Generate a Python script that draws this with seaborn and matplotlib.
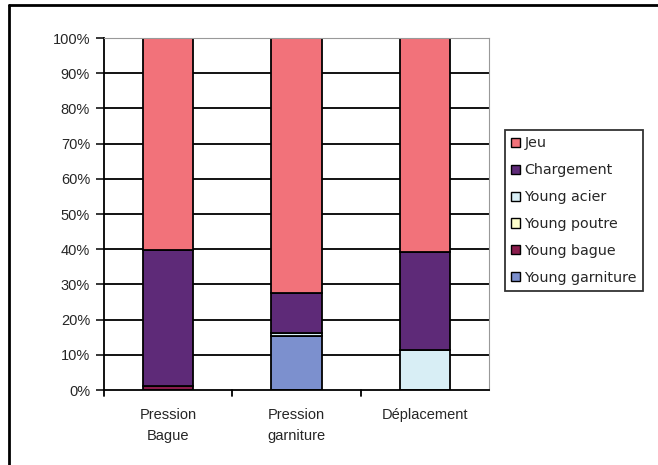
import numpy as np
import pandas as pd
import seaborn as sns
import matplotlib.pyplot as plt
from matplotlib.lines import Line2D
from matplotlib.patches import Patch

sns.set_style("white")
plt.rcParams['font.family'] = ['Liberation Sans', 'DejaVu Sans']

# values in %
categories = ["Pression\nBague", "Pression\ngarniture", "Déplacement"]
series = ["Young garniture", "Young bague", "Young poutre", "Young acier", "Chargement", "Jeu"]
young_garniture = [0.0, 15.3, 0.0]
young_bague = [1.2, 0.0, 0.0]
young_poutre = [0.0, 0.0, 0.0]
young_acier = [0.0, 0.9, 11.4]
chargement = [38.6, 11.4, 27.8]
jeu = [60.2, 72.4, 60.8]

colors = {
    "Jeu": "#F2727A",
    "Chargement": "#5E2A78",
    "Young acier": "#D8EEF5",
    "Young poutre": "#FFFFCC",
    "Young bague": "#8A1C4C",
    "Young garniture": "#7C90CE",
}

df = pd.DataFrame({
    "cat": categories,
    "Young garniture": young_garniture,
    "Young bague": young_bague,
    "Young poutre": young_poutre,
    "Young acier": young_acier,
    "Chargement": chargement,
    "Jeu": jeu,
})

fig = plt.figure(figsize=(6.58, 4.65), dpi=100)
ax = fig.add_axes([104 / 658, 1 - 390 / 465, 385 / 658, 352 / 465])

for y in range(10, 101, 10):
    ax.axhline(y, color="black", lw=1.3, zorder=0)

bottom = np.zeros(len(categories))
for s in series:
    sns.barplot(data=df, x="cat", y=s, color=colors[s], width=0.39,
                bottom=bottom, edgecolor="black", linewidth=1.3,
                saturation=1, ax=ax, zorder=2)
    bottom = bottom + df[s].values

ax.set_ylim(0, 100)
ax.set_xlim(-0.5, 2.5)
ax.set_yticks(range(0, 101, 10))
ax.set_yticklabels([f"{v}%" for v in range(0, 101, 10)], fontsize=10.5)
ax.set_xticks(range(3))
ax.set_xticklabels(categories, fontsize=10.5, linespacing=1.6)
ax.set_xlabel("")
ax.set_ylabel("")
ax.tick_params(axis="x", pad=13, length=0)
ax.tick_params(axis="y", length=6, width=1.3, direction="out", left=True, pad=4)
for x in [-0.5, 0.5, 1.5]:
    ax.plot([x, x], [0, -1.7], color="black", lw=1.3, clip_on=False)

ax.spines["left"].set_color("black")
ax.spines["left"].set_linewidth(1.3)
ax.spines["bottom"].set_color("black")
ax.spines["bottom"].set_linewidth(1.3)
ax.spines["top"].set_color("#999999")
ax.spines["right"].set_color("#999999")

handles = [Patch(facecolor=colors[s], edgecolor="black", linewidth=1) for s in series[::-1]]
leg = fig.legend(handles, series[::-1], loc="upper left",
                 bbox_to_anchor=(505 / 658, 1 - 130 / 465),
                 prop={"family": "DejaVu Sans", "size": 10.3},
                 frameon=True, fancybox=False, edgecolor="black",
                 handlelength=0.6, handleheight=0.6, handletextpad=0.3,
                 labelspacing=0.9, borderpad=0.45, borderaxespad=0)
leg.get_frame().set_linewidth(1.3)

# outer frame (left and top only visible)
fig.add_artist(Line2D([9 / 658, 9 / 658], [0, 1 - 5 / 465], color="black", lw=2))
fig.add_artist(Line2D([9 / 658, 1], [1 - 5 / 465, 1 - 5 / 465], color="black", lw=2))

fig.savefig("out.png", dpi=100)
